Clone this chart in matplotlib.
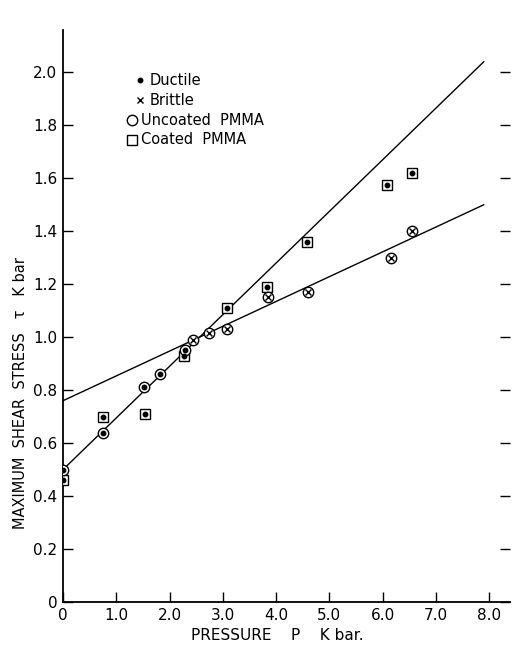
import matplotlib
matplotlib.use("Agg")
import matplotlib.pyplot as plt

# ---- data ----
# uncoated PMMA, ductile (circle with dot)
unc_duct_x = [0.0, 0.75, 1.52, 1.82, 2.30]
unc_duct_y = [0.50, 0.64, 0.81, 0.86, 0.95]
# uncoated PMMA, brittle (circle with cross)
unc_brit_x = [2.45, 2.74, 3.08, 3.85, 4.60, 6.15, 6.55]
unc_brit_y = [0.99, 1.015, 1.03, 1.15, 1.17, 1.30, 1.40]
# coated PMMA, ductile (square with dot)
coat_duct_x = [0.0, 0.75, 1.54, 2.28, 3.08, 3.83, 4.58, 6.08, 6.55]
coat_duct_y = [0.46, 0.70, 0.71, 0.93, 1.11, 1.19, 1.36, 1.575, 1.62]
# fitted lines (end points)
fit_x = [0.0, 7.9]
fit_steep_y = [0.50, 2.04]
fit_shallow_y = [0.76, 1.50]

x_ticks = [0, 1, 2, 3, 4, 5, 6, 7, 8]
x_ticklabels = ["0", "1.0", "2.0", "3.0", "4.0", "5.0", "6.0", "7.0", "8.0"]
y_ticks = [0, 0.2, 0.4, 0.6, 0.8, 1.0, 1.2, 1.4, 1.6, 1.8, 2.0]
y_ticklabels = ["0", "0.2", "0.4", "0.6", "0.8", "1.0", "1.2", "1.4", "1.6", "1.8", "2.0"]

legend_labels = ["Ductile", "Brittle", "Uncoated  PMMA", "Coated  PMMA"]

plt.rcParams['font.family'] = ['DejaVu Sans']

fig = plt.figure(figsize=(5.13, 6.47), dpi=100)
ax = fig.add_axes([0.1228, 0.0696, 0.871, 0.884])

lw = 1.0
ax.plot(fit_x, fit_steep_y, color='black', lw=lw, zorder=1)
ax.plot(fit_x, fit_shallow_y, color='black', lw=lw, zorder=1)

circ = dict(marker='o', ms=7.5, mfc='white', mec='black', mew=1.0, ls='none', zorder=3)
sq = dict(marker='s', ms=6.8, mfc='white', mec='black', mew=1.0, ls='none', zorder=3)
dot = dict(marker='o', ms=3.2, mfc='black', mec='black', ls='none', zorder=4)
cross = dict(marker='x', ms=4.8, mec='black', mew=1.0, ls='none', zorder=4)

ax.plot(coat_duct_x, coat_duct_y, **sq)
ax.plot(coat_duct_x, coat_duct_y, **dot)
ax.plot(unc_duct_x, unc_duct_y, **circ)
ax.plot(unc_duct_x, unc_duct_y, **dot)
ax.plot(unc_brit_x, unc_brit_y, **circ)
ax.plot(unc_brit_x, unc_brit_y, **cross)

# legend (drawn manually)
leg_y = [1.97, 1.895, 1.82, 1.745]
ax.plot([1.45], [leg_y[0]], **dot)
ax.plot([1.45], [leg_y[1]], **cross)
ax.plot([1.30], [leg_y[2]], **circ)
ax.plot([1.30], [leg_y[3]], **sq)
for yy, lab, xx in zip(leg_y, legend_labels, [1.63, 1.63, 1.47, 1.47]):
    ax.text(xx, yy, lab, fontsize=10.5, va='center', ha='left')

ax.set_xlim(0, 8.39)
ax.set_ylim(0, 2.16)
ax.set_xticks(x_ticks)
ax.set_xticklabels(x_ticklabels)
ax.set_yticks(y_ticks)
ax.set_yticklabels(y_ticklabels)
ax.spines['top'].set_visible(False)
ax.spines['right'].set_visible(False)
for s in ['left', 'bottom']:
    ax.spines[s].set_linewidth(1.3)
ax.tick_params(axis='both', direction='in', length=7, width=1.0, labelsize=11, pad=4)
ax.tick_params(axis='y', right=True)

ax.set_xlabel("PRESSURE    P    K bar.", fontsize=11)
ax.xaxis.set_label_coords(0.48, -0.045)
ax.set_ylabel("MAXIMUM  SHEAR  STRESS   \u03c4   K bar", fontsize=10.5)
ax.yaxis.set_label_coords(-0.078, 0.365)

fig.savefig("out.png", dpi=100)
